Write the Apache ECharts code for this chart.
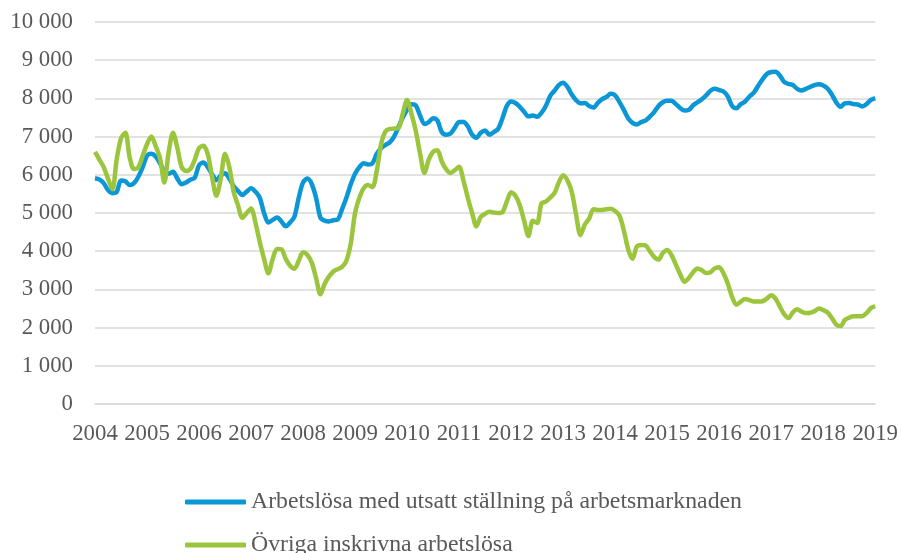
<!DOCTYPE html>
<html>
<head>
<meta charset="utf-8">
<script src="https://cdn.jsdelivr.net/npm/echarts@6/dist/echarts.min.js"></script>
<style>
  html, body { margin: 0; padding: 0; background: #fff; }
  #chart { width: 901px; height: 553px; }
</style>
</head>
<body>
<div id="chart"></div>
<script>
// year tick labels, one per January
const years = [2004, 2005, 2006, 2007, 2008, 2009, 2010, 2011, 2012, 2013, 2014, 2015, 2016, 2017, 2018, 2019]

// monthly categories, Jan 2004 .. Jan 2019
const months = []
years.forEach((y, i) => {
  const last = i === years.length - 1 ? 1 : 12
  for (let m = 1; m <= last; m++) months.push(y + '-' + String(m).padStart(2, '0'))
})

const seriesNames = ['Arbetslösa med utsatt ställning på arbetsmarknaden', 'Övriga inskrivna arbetslösa']

// Arbetslösa med utsatt ställning (blue)
const utsatta = [
  5910, 5880, 5780, 5600, 5520, 5550, 5850, 5830, 5730, 5780, 5950, 6200,
  6500, 6550, 6480, 6300, 6100, 6030, 6080, 5900, 5750, 5800, 5870, 5920,
  6250, 6320, 6200, 6020, 5860, 5980, 6040, 5900, 5700, 5580, 5470, 5560,
  5650, 5560, 5400, 5000, 4750, 4820, 4880, 4780, 4650, 4750, 4900, 5400,
  5800, 5900, 5760, 5400, 4880, 4800, 4780, 4810, 4830, 5100, 5400, 5750,
  6030, 6200, 6300, 6270, 6300, 6550, 6700, 6780, 6850, 7000, 7250, 7500,
  7700, 7850, 7820, 7550, 7330, 7380, 7480, 7420, 7120, 7050, 7080, 7230,
  7380, 7380, 7270, 7050, 6970, 7100, 7160, 7050, 7120, 7200, 7480, 7800,
  7920, 7880, 7780, 7650, 7530, 7550, 7520, 7620, 7800, 8060, 8200, 8350,
  8410, 8300, 8100, 7950, 7870, 7880, 7800, 7760, 7880, 7980, 8040, 8120,
  8080, 7900, 7700, 7480, 7360, 7320, 7380, 7420, 7520, 7640, 7800, 7900,
  7940, 7940, 7850, 7750, 7680, 7700, 7820, 7900, 7980, 8080, 8200, 8250,
  8220, 8180, 8050, 7800, 7740, 7850, 7920, 8050, 8150, 8330, 8500, 8640,
  8690, 8700, 8600, 8430, 8380, 8350, 8250, 8210, 8250, 8300, 8350, 8370,
  8340, 8260, 8100, 7900, 7780, 7870, 7880, 7850, 7840, 7790, 7850, 7960,
  8010
]

// Övriga inskrivna arbetslösa (green)
const ovriga = [
  6600, 6400, 6200, 5900, 5620, 6400, 6950, 7100, 6450, 6150, 6200, 6500,
  6800, 7000, 6750, 6430, 5800, 6600, 7100, 6700, 6200, 6100, 6150, 6390,
  6700, 6760, 6550, 5950, 5450, 5900, 6550, 6200, 5550, 5200, 4870, 5000,
  5120, 4750, 4250, 3800, 3420, 3800, 4060, 4050, 3800, 3620, 3540, 3750,
  3970, 3900, 3700, 3300, 2870, 3150, 3340, 3470, 3530, 3590, 3750, 4200,
  5000, 5400, 5650, 5730, 5680, 6100, 6800, 7130, 7200, 7210, 7220, 7600,
  7960, 7600, 7150, 6550, 6050, 6400, 6600, 6640, 6350, 6150, 6050, 6120,
  6210, 5850, 5400, 5000, 4650, 4900, 4980, 5030, 5010, 5000, 5020, 5300,
  5540, 5450, 5200, 4800, 4400, 4800, 4740, 5250, 5300, 5400, 5520, 5800,
  5990, 5850, 5550, 4950, 4420, 4700, 4850, 5100, 5080, 5080, 5100, 5110,
  5050, 4930, 4550, 4050, 3800, 4120, 4160, 4150, 4000, 3850, 3780, 3950,
  4030, 3900, 3650, 3400, 3200, 3300, 3450, 3550, 3500, 3430, 3450, 3550,
  3580, 3420, 3150, 2800, 2600, 2680, 2750, 2720, 2680, 2680, 2690, 2760,
  2850, 2760, 2550, 2350, 2250, 2400, 2480, 2420, 2380, 2390, 2430, 2500,
  2460, 2400, 2250, 2080, 2040, 2200, 2260, 2300, 2300, 2300, 2380, 2510,
  2560
]

const font = "'Liberation Serif', 'Times New Roman', serif"
const textColor = '#595959'
const gridColor = '#d9d9d9'

const chart = echarts.init(document.getElementById('chart'))

// one legend block per series so they stack like the original
const legendBlock = (name, top) => ({
  left: 180,
  top: top,
  itemWidth: 61,
  itemHeight: 5,
  icon: 'roundRect',
  textStyle: { fontFamily: font, fontSize: 23.8, color: textColor },
  data: [name]
})

chart.setOption({
  animation: false,
  textStyle: { fontFamily: font },
  color: ['#0b96d6', '#9bc53c'],
  grid: { left: 95, right: 22, top: 22, bottom: 149 },
  legend: [legendBlock(seriesNames[0], 485), legendBlock(seriesNames[1], 528)],
  xAxis: {
    type: 'category',
    boundaryGap: false,
    data: months,
    axisLine: { lineStyle: { color: gridColor, width: 1.5 } },
    axisTick: { show: false },
    axisLabel: {
      interval: 11,
      margin: 19,
      fontFamily: font,
      fontSize: 22.8,
      color: textColor,
      formatter: v => v.slice(0, 4)
    },
    splitLine: { show: false }
  },
  yAxis: {
    type: 'value',
    min: 0,
    max: 10000,
    interval: 1000,
    axisLine: { show: false },
    axisTick: { show: false },
    axisLabel: {
      margin: 22,
      fontFamily: font,
      fontSize: 22.8,
      color: textColor,
      formatter: v => String(v).replace(/\B(?=(\d{3})+(?!\d))/g, ' ')
    },
    splitLine: { lineStyle: { color: gridColor, width: 1.5 } }
  },
  series: [
    {
      name: seriesNames[0],
      type: 'line',
      data: utsatta,
      smooth: 0.3,
      symbol: 'none',
      lineStyle: { width: 4.5 }
    },
    {
      name: seriesNames[1],
      type: 'line',
      data: ovriga,
      smooth: 0.3,
      symbol: 'none',
      lineStyle: { width: 4.5 }
    }
  ]
})
</script>
</body>
</html>
